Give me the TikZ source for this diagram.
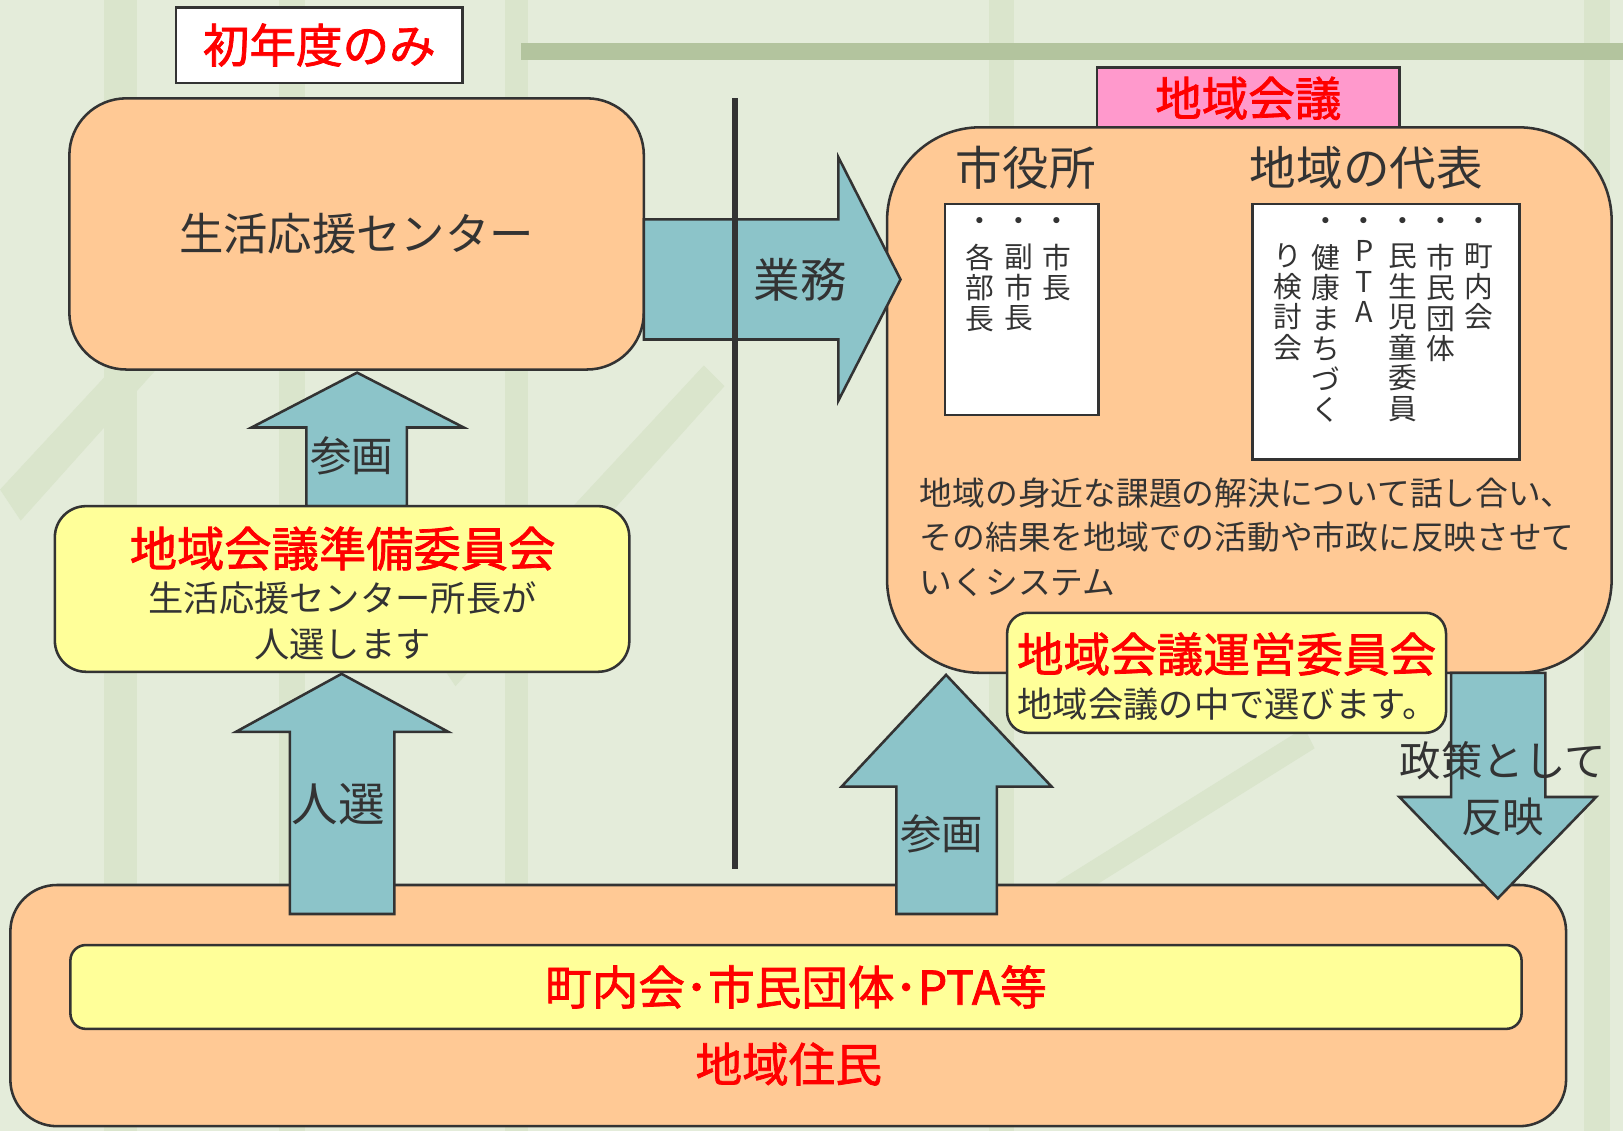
\documentclass[tikz,border=0pt]{standalone}
\usepackage{fontspec}
\setmainfont{Noto Sans CJK JP}
\newfontfamily\heavyjp[FakeBold=1.6]{Noto Sans CJK JP}

\definecolor{peach}{HTML}{FFC995}
\definecolor{arrowblue}{HTML}{8CC4C9}
\definecolor{paleyellow}{HTML}{FFFF99}
\definecolor{kaigipink}{HTML}{FF99CC}
\definecolor{bamboo}{HTML}{E4ECDA}
\definecolor{stalk}{HTML}{DAE5CC}
\definecolor{barline}{HTML}{B3C49E}
\definecolor{ink}{HTML}{333333}

\tikzset{
  boxline/.style={draw=ink, line width=0.7pt, inner sep=0pt},
  peachbox/.style={boxline, fill=peach, rounded corners=#1},
  yellowbox/.style={boxline, fill=paleyellow, rounded corners=#1},
  blockarrow/.style={boxline, fill=arrowblue},
  bigred/.style={text=red, font=\heavyjp\fontsize{12.8}{14}\selectfont},
  biglabel/.style={text=ink, font=\fontsize{12.8}{14}\selectfont},
  arrowlabel/.style={text=ink, font=\fontsize{11.4}{15.6}\selectfont, align=center},
  smalltext/.style={text=ink, font=\fontsize{9.7}{12.5}\selectfont, align=center},
  tatecol/.style={inner sep=0pt, anchor=north, align=center, text=ink, font=\fontsize{7.9}{8.4}\selectfont}
}

\begin{document}
\begin{tikzpicture}
\useasboundingbox (0,0) rectangle (15.68,10.93);
\fill[bamboo] (0,0) rectangle (15.68,10.93); %background
\fill[stalk] (1.00,0) rectangle (1.32,10.93); %bamboo stalks
\fill[stalk] (2.70,0) rectangle (2.95,10.93);
\fill[stalk] (4.88,0) rectangle (5.10,10.93);
\fill[stalk] (9.55,0) rectangle (9.80,10.93);
\fill[stalk] (15.30,0) rectangle (15.55,10.93);
\fill[stalk] (0,6.2) -- (2.6,9.0) -- (2.8,8.8) -- (0.2,5.9) -- cycle; %leaves
\fill[stalk] (4.2,4.6) -- (6.8,7.4) -- (7.0,7.2) -- (4.4,4.3) -- cycle;
\fill[stalk] (10.2,2.4) -- (12.6,3.9) -- (12.7,3.7) -- (10.3,2.2) -- cycle;
\fill[barline] (5.03,10.35) rectangle (15.68,10.51); %top bar

\node[boxline, fill=white, minimum width=2.77cm, minimum height=0.73cm, bigred] (firstyear) at (3.085,10.495) {初年度のみ};
\node[peachbox=0.55cm, minimum width=5.55cm, minimum height=2.62cm, biglabel, font=\fontsize{12.2}{14}\selectfont] (center) at (3.445,8.67) {生活応援センター};

% regional meeting
\node[boxline, fill=kaigipink, minimum width=2.92cm, minimum height=0.60cm, bigred] (kaigi) at (12.06,9.98) {地域会議};
\node[peachbox=0.9cm, minimum width=7.00cm, minimum height=5.27cm] (kaigibox) at (12.07,7.065) {};
\node[biglabel] (cityhall) at (9.91,9.31) {市役所};
\node[biglabel] (locals) at (13.20,9.31) {地域の代表};
\node[boxline, fill=white, minimum width=1.48cm, minimum height=2.04cm] (cityhallbox) at (9.87,7.94) {};
\node[boxline, fill=white, minimum width=2.58cm, minimum height=2.47cm] (localsbox) at (13.39,7.725) {};

\node[tatecol] (mayor) at (10.21,8.91) {\strut・\\市\\長};
\node[tatecol] (vicemayor) at (9.84,8.91) {\strut・\\副\\市\\長};
\node[tatecol] (directors) at (9.47,8.91) {\strut・\\各\\部\\長};

\node[tatecol] (chonaikai) at (14.29,8.91) {\strut・\\町\\内\\会};
\node[tatecol] (shimin) at (13.92,8.91) {\strut・\\市\\民\\団\\体};
\node[tatecol] (minsei) at (13.55,8.91) {\strut・\\民\\生\\児\\童\\委\\員};
\node[tatecol] (pta) at (13.18,8.91) {\strut・\\P\\T\\A};
\node[tatecol] (kenko) at (12.81,8.91) {\strut・\\健\\康\\ま\\ち\\づ\\く};
\node[tatecol] (kentokai) at (12.44,8.91) {\strut\\り\\検\\討\\会};

\node[text=ink, anchor=west, align=left, inner sep=0pt, font=\fontsize{9}{12.2}\selectfont] (system) at (8.88,5.74) {地域の身近な課題の解決について話し合い、\\その結果を地域での活動や市政に反映させて\\いくシステム};

% business arrow
\draw[blockarrow] (6.22,8.81) -- (8.10,8.81) -- (8.10,9.41) -- (8.70,8.23) -- (8.10,7.06) -- (8.10,7.65) -- (6.22,7.65) -- cycle;
\node[biglabel] (gyomu) at (7.73,8.23) {業務};
\draw[ink, line width=1.8pt] (7.10,9.98) -- (7.10,2.53); %vertical line

% residents
\node[peachbox=0.45cm, minimum width=15.03cm, minimum height=2.33cm] (residents) at (7.615,1.215) {};
\node[yellowbox=0.15cm, minimum width=14.02cm, minimum height=0.81cm, bigred] (groups) at (7.69,1.395) {町内会･市民団体･PTA等};
\node[bigred] (residentlabel) at (7.62,0.65) {地域住民};

% block arrows
\draw[blockarrow] (2.80,2.10) -- (3.81,2.10) -- (3.81,3.86) -- (4.33,3.86) -- (3.30,4.42) -- (2.28,3.86) -- (2.80,3.86) -- cycle;
\draw[blockarrow] (2.96,6.04) -- (3.93,6.04) -- (3.93,6.80) -- (4.48,6.80) -- (3.45,7.33) -- (2.43,6.80) -- (2.96,6.80) -- cycle;
\draw[blockarrow] (8.66,2.10) -- (9.63,2.10) -- (9.63,3.33) -- (10.16,3.33) -- (9.14,4.41) -- (8.13,3.33) -- (8.66,3.33) -- cycle;
\draw[blockarrow] (14.02,4.43) -- (14.93,4.43) -- (14.93,3.23) -- (15.42,3.23) -- (14.47,2.25) -- (13.52,3.23) -- (14.02,3.23) -- cycle;

% committees
\node[yellowbox=0.3cm, minimum width=5.55cm, minimum height=1.60cm] (prep) at (3.305,5.24) {};
\node[bigred, font=\heavyjp\fontsize{13}{15}\selectfont] (preptitle) at (3.31,5.63) {地域会議準備委員会};
\node[smalltext] (preptext) at (3.31,4.93) {生活応援センター所長が\\人選します};

\node[yellowbox=0.2cm, minimum width=4.24cm, minimum height=1.16cm] (steer) at (11.85,4.43) {};
\node[bigred] (steertitle) at (11.85,4.61) {地域会議運営委員会};
\node[smalltext] (steertext) at (11.86,4.13) {地域会議の中で選びます。};

\node[arrowlabel] (sankaku1) at (3.40,6.53) {参画};
\node[biglabel] (jinsen) at (3.27,3.16) {人選};
\node[arrowlabel] (sankaku2) at (9.10,2.87) {参画};
\node[arrowlabel] (policy) at (14.52,3.31) {政策として\\反映};
\end{tikzpicture}
\end{document}
